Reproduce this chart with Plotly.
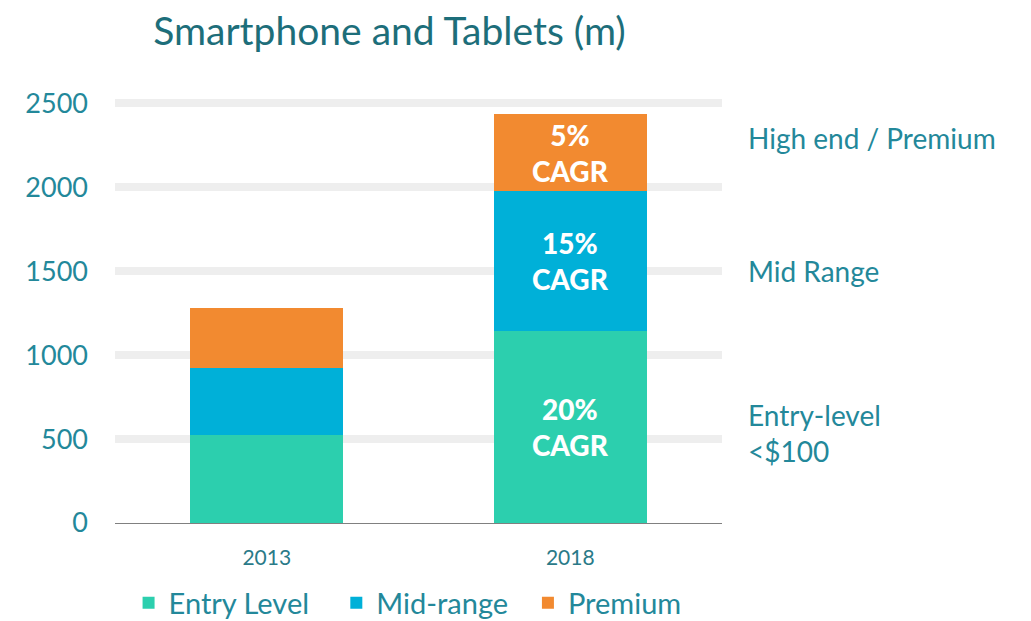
import plotly.graph_objects as go

years = ["2013", "2018"]
entry = [524, 1143]
mid = [400, 833]
premium = [356, 459]
entry_text = ["", "20%<br>CAGR"]
mid_text = ["", "15%<br>CAGR"]
premium_text = ["", "5%<br>CAGR"]
series_names = ["Entry Level", "Mid-range", "Premium"]
colors = ["#2ccfae", "#00b0d8", "#f28a30"]
side_labels = ["High end / Premium", "Mid Range", "Entry-level<br><$100"]
side_label_y = [2292, 1500, 536]

FONT = "Lato, 'Open Sans', sans-serif"
TEAL = "#23889a"
PAD = ["\u00a0\u00a0\u00a0", "\u00a0\u00a0", ""]

fig = go.Figure()
for name, vals, txt, col, pad in zip(series_names, [entry, mid, premium],
                                     [entry_text, mid_text, premium_text], colors, PAD):
    fig.add_trace(go.Bar(
        x=years, y=vals, name=name + pad, marker=dict(color=col, line=dict(width=0)),
        text=txt, textposition="inside", insidetextanchor="middle",
        textfont=dict(family=FONT, size=28, color="white", weight=900),
        textangle=0, hoverinfo="skip",
    ))

for lab, yv in zip(side_labels, side_label_y):
    fig.add_annotation(
        xref="paper", yref="y", x=1.04, y=yv, text=lab, showarrow=False,
        xanchor="left", yanchor="middle", align="left",
        font=dict(family=FONT, size=28, color=TEAL),
    )

fig.update_layout(
    barmode="stack",
    bargap=0.496,
    width=1031, height=621,
    margin=dict(l=107, r=317, t=87, b=106),
    paper_bgcolor="white", plot_bgcolor="white",
    title=dict(text="Smartphone and Tablets (m)", x=0.37, xanchor="center",
               y=0.962, yanchor="middle",
               font=dict(family=FONT, size=39, color="#1d6e7a")),
    legend=dict(orientation="h", x=0.482, xanchor="center",
                yref="container", y=0.042, yanchor="middle",
                font=dict(family=FONT, size=29, color=TEAL),
                itemwidth=30, traceorder="normal"),
)
fig.update_xaxes(
    tickfont=dict(family=FONT, size=21, color="#2a7a88"),
    showgrid=False, showline=False, ticks="", automargin=False,
    ticklabelstandoff=20,
)
fig.update_yaxes(
    range=[0, 2550], tickvals=[0, 500, 1000, 1500, 2000, 2500],
    tickfont=dict(family=FONT, size=27, color=TEAL),
    showgrid=True, gridcolor="#eeeeee", gridwidth=8,
    zeroline=True, zerolinecolor="#808080", zerolinewidth=1,
    ticks="", ticklabelstandoff=26, automargin=False,
)
fig.write_html("out.html")
